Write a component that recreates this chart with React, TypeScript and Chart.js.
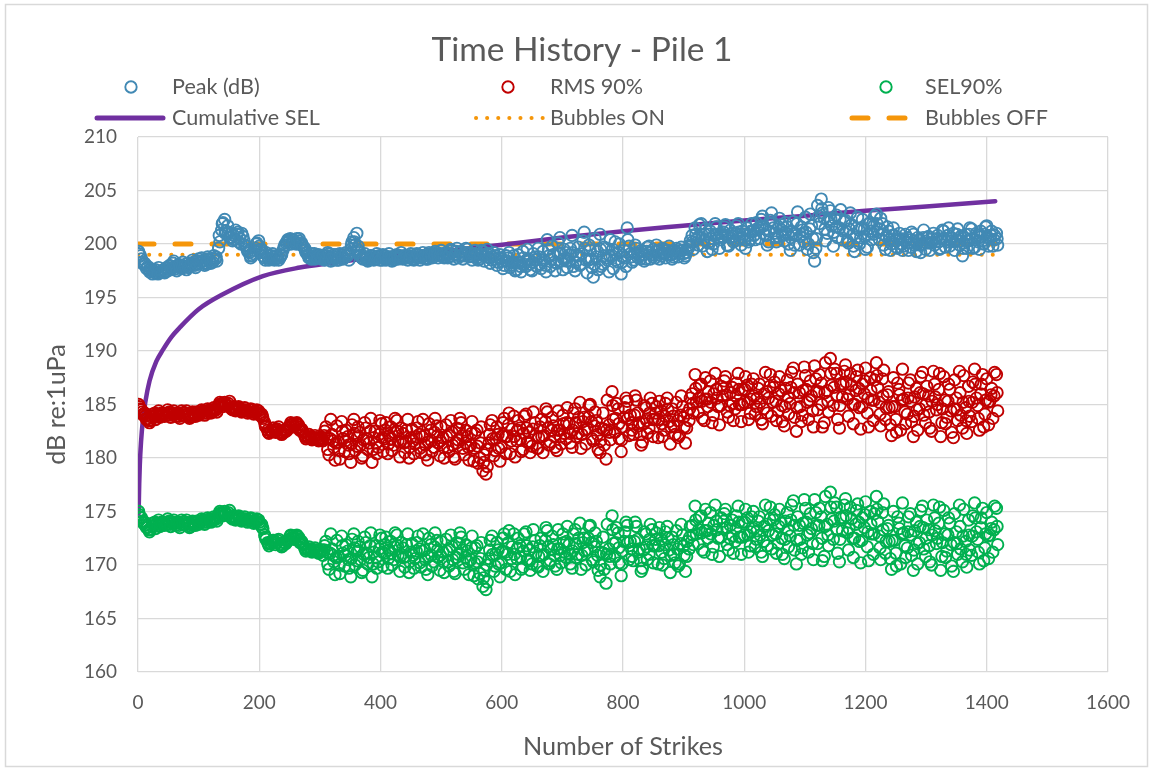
import React, { useEffect, useRef } from "react";
import { Chart, registerables } from "chart.js";

Chart.register(...registerables);

// ---------------- data ----------------
const chartTitle = "Time History - Pile 1";
const xAxisTitle = "Number of Strikes";
const yAxisTitle = "dB re:1uPa";
const seriesNames = ["Peak (dB)", "RMS 90%", "SEL90%", "Cumulative SEL", "Bubbles ON", "Bubbles OFF"];

const xTickLabels = [0, 200, 400, 600, 800, 1000, 1200, 1400, 1600];
const yTickLabels = [160, 165, 170, 175, 180, 185, 190, 195, 200, 205, 210];

// strike numbers of the plotted strikes (three interleaved sample sets)
const strikeCount = 280;
const strikeStep = 5.07;
const strikesA: number[] = Array.from({ length: strikeCount }, (_, i) => Math.round(1 + i * strikeStep));
const strikesB: number[] = Array.from({ length: strikeCount }, (_, i) => Math.round(3.5 + i * strikeStep));
const strikesC: number[] = Array.from({ length: strikeCount }, (_, i) => Math.round(2.3 + i * strikeStep));

const peakDbA = [
  199.3, 198.6, 198.2, 197.9, 197.7, 197.5, 197.3, 197.3, 197.6, 197.8,
  198.0, 197.8, 197.9, 198.1, 197.7, 197.9, 198.2, 198.0, 198.3, 198.1,
  198.2, 198.4, 198.1, 198.5, 198.3, 198.6, 199.6, 201.3, 202.3, 201.7,
  201.0, 200.8, 200.9, 200.5, 200.7, 199.8, 199.2, 198.9, 199.6, 200.3,
  199.5, 198.7, 198.9, 198.6, 198.8, 198.9, 198.7, 199.4, 200.1, 200.3,
  200.4, 200.2, 200.3, 200.1, 199.6, 199.0, 198.8, 198.9, 198.7, 198.9,
  198.9, 198.6, 199.1, 198.7, 198.8, 198.5, 199.0, 198.7, 198.9, 199.5,
  200.6, 201.0, 199.2, 198.6, 198.8, 198.5, 198.9, 198.6, 198.8, 198.7,
  198.9, 198.6, 198.8, 198.5, 199.0, 198.7, 198.6, 198.9, 198.7, 198.8,
  198.6, 199.0, 198.7, 198.9, 198.6, 199.1, 198.8, 199.2, 198.9, 199.0,
  199.2, 198.8, 199.4, 199.0, 198.7, 199.3, 198.9, 199.5, 199.1, 198.8,
  199.0, 198.6, 199.3, 198.8, 199.1, 198.5, 198.9, 198.3, 198.7, 198.0,
  198.4, 197.8, 198.9, 197.6, 198.2, 199.3, 197.9, 198.6, 197.5, 198.8,
  199.6, 197.7, 198.5, 200.4, 197.9, 199.0, 198.2, 200.6, 197.6, 199.2,
  198.4, 200.8, 197.5, 199.7, 198.1, 201.1, 197.3, 199.4, 196.9, 198.8,
  200.9, 198.1, 199.6, 197.4, 198.9, 200.2, 198.3, 197.2, 199.4, 201.5,
  199.1, 198.5, 199.6, 198.9, 199.3, 198.6, 199.8, 199.0, 198.7, 199.4,
  198.9, 199.5, 199.0, 199.3, 198.8, 199.6, 199.1, 199.4, 198.9, 199.7,
  200.8, 201.5, 199.9, 201.9, 200.4, 199.3, 201.2, 200.0, 201.6, 199.6,
  200.7, 201.8, 199.8, 201.0, 200.3, 201.9, 199.9, 200.9, 201.5, 200.4,
  201.2, 202.0, 200.5, 202.6, 201.4, 200.2, 202.9, 201.0, 200.7, 201.8,
  200.3, 201.6, 199.4, 202.1, 200.8, 199.9, 201.3, 202.5, 200.0, 201.7,
  198.4, 203.6, 204.2, 202.4, 201.0, 203.1, 199.8, 202.7, 201.5, 200.4,
  202.2, 200.1, 201.8, 199.3, 202.5, 200.6, 201.4, 199.7, 202.0, 200.9,
  202.8, 200.4, 201.9, 199.5, 201.2, 200.0, 200.8, 199.6, 200.5, 199.8,
  200.6, 199.7, 200.9, 199.3, 200.4, 200.0, 199.5, 200.7, 200.1, 199.9,
  200.8, 199.6, 201.2, 200.2, 199.8, 201.0, 200.4, 199.9, 198.9, 200.9,
  200.3, 201.4, 199.7, 200.8, 201.2, 200.0, 201.7, 200.5, 199.8, 201.0,
];

const peakDbB = [
  198.9, 198.1, 197.7, 197.4, 197.2, 197.6, 197.8, 197.5, 197.3, 197.5,
  197.6, 198.4, 197.5, 197.8, 198.3, 197.6, 197.9, 198.5, 197.8, 198.6,
  198.7, 198.0, 198.8, 198.2, 198.9, 198.4, 200.2, 202.0, 201.2, 200.6,
  200.3, 201.3, 200.2, 201.0, 199.9, 199.3, 198.7, 199.4, 200.1, 199.5,
  198.9, 199.2, 198.5, 199.1, 198.6, 198.5, 199.0, 199.9, 200.4, 200.0,
  200.1, 200.5, 200.0, 199.8, 199.2, 198.7, 199.1, 198.6, 199.0, 198.6,
  198.5, 199.2, 198.4, 199.0, 198.5, 199.1, 198.6, 199.2, 198.5, 200.2,
  199.9, 199.8, 198.7, 199.1, 198.4, 198.9, 198.5, 199.1, 198.5, 199.0,
  198.5, 199.1, 198.4, 198.9, 198.6, 199.2, 198.9, 198.5, 199.1, 198.5,
  199.1, 198.5, 199.2, 198.6, 199.2, 198.7, 199.3, 198.7, 199.4, 198.7,
  198.7, 199.5, 198.6, 199.6, 199.2, 198.6, 199.6, 198.8, 198.5, 199.4,
  198.5, 199.4, 198.4, 199.5, 198.2, 199.2, 198.0, 199.0, 197.7, 198.9,
  199.2, 198.3, 197.5, 199.0, 197.4, 198.1, 199.5, 197.6, 199.1, 197.9,
  198.1, 199.3, 197.4, 198.9, 199.8, 197.5, 200.1, 198.4, 199.5, 197.8,
  199.6, 197.9, 199.0, 198.0, 200.3, 198.5, 199.9, 197.8, 200.5, 197.6,
  197.9, 199.7, 198.5, 200.4, 197.7, 199.1, 200.0, 198.8, 197.9, 199.8,
  198.3, 199.9, 198.7, 199.4, 198.4, 199.7, 198.6, 199.5, 199.9, 198.6,
  199.6, 198.7, 199.8, 198.6, 199.4, 198.8, 199.7, 198.7, 199.5, 200.3,
  199.5, 200.4, 201.8, 199.8, 201.4, 200.9, 199.5, 201.9, 200.6, 201.0,
  201.6, 199.9, 201.3, 200.2, 201.7, 200.5, 201.2, 199.6, 200.2, 201.9,
  200.4, 201.5, 202.3, 200.9, 199.9, 202.2, 201.5, 200.2, 202.4, 200.8,
  202.0, 200.0, 201.2, 199.9, 203.0, 201.6, 200.2, 199.5, 202.8, 199.2,
  200.5, 201.9, 202.9, 200.3, 203.4, 201.7, 202.4, 200.6, 203.2, 202.1,
  200.3, 202.9, 199.8, 201.5, 200.0, 202.3, 199.5, 201.9, 200.4, 202.6,
  201.1, 202.4, 199.9, 201.6, 199.4, 201.5, 199.7, 201.0, 199.4, 200.9,
  199.4, 201.1, 199.9, 200.6, 199.2, 201.3, 200.6, 199.4, 201.0, 200.5,
  199.5, 201.3, 199.7, 201.5, 200.6, 199.4, 201.4, 200.7, 200.1, 199.6,
  201.5, 199.6, 201.0, 199.5, 200.3, 201.6, 199.8, 201.2, 200.8, 199.9,
];

const peakDbC = [
  199.1, 198.3, 198.0, 197.6, 197.5, 197.3, 197.2, 197.4, 197.4, 197.7,
  197.9, 198.2, 197.7, 198.0, 197.9, 198.1, 197.8, 198.2, 198.0, 198.4,
  198.4, 198.2, 198.6, 198.3, 198.6, 198.8, 200.8, 201.9, 201.0, 201.1,
  200.6, 200.4, 201.1, 200.0, 200.3, 199.5, 198.9, 199.1, 200.0, 199.8,
  199.2, 198.5, 198.7, 198.9, 198.5, 198.7, 198.9, 199.7, 200.2, 200.5,
  200.2, 200.0, 200.5, 199.9, 199.4, 198.9, 198.6, 199.1, 198.9, 198.7,
  198.7, 198.9, 198.8, 198.5, 199.0, 198.7, 198.8, 198.9, 199.1, 199.9,
  200.2, 199.5, 198.9, 198.8, 198.6, 198.7, 198.7, 198.8, 198.9, 198.5,
  198.7, 198.8, 198.6, 198.7, 198.8, 198.9, 198.7, 198.7, 198.9, 198.6,
  198.8, 198.8, 198.9, 198.7, 198.9, 198.9, 199.0, 199.0, 199.1, 198.8,
  199.0, 199.1, 198.9, 199.3, 198.9, 199.0, 199.2, 199.2, 198.9, 199.1,
  198.7, 199.0, 198.9, 199.1, 198.7, 198.8, 198.6, 198.7, 198.4, 198.4,
  198.7, 198.0, 198.2, 198.3, 197.9, 198.7, 198.5, 198.1, 198.3, 198.5,
  198.8, 198.5, 198.0, 199.5, 198.6, 198.3, 199.2, 199.1, 198.6, 198.4,
  199.0, 199.2, 198.3, 198.9, 199.1, 199.6, 198.5, 198.6, 198.1, 199.3,
  199.5, 198.9, 198.7, 198.9, 199.5, 198.5, 199.2, 198.3, 198.7, 200.4,
  198.8, 199.2, 199.1, 198.6, 199.0, 199.3, 199.2, 198.8, 199.3, 199.0,
  199.2, 199.1, 199.4, 199.0, 199.1, 199.2, 199.4, 199.1, 199.2, 199.9,
  200.2, 200.9, 200.7, 200.9, 200.9, 200.1, 200.5, 200.8, 200.9, 200.4,
  201.1, 200.8, 200.6, 200.7, 201.0, 201.1, 200.6, 200.4, 200.8, 201.2,
  200.8, 201.3, 201.5, 201.7, 200.8, 201.2, 202.0, 200.6, 201.6, 201.3,
  201.1, 200.9, 200.6, 201.0, 201.9, 200.7, 200.9, 201.1, 201.4, 200.5,
  199.6, 202.6, 203.3, 201.4, 202.2, 202.3, 201.1, 201.6, 202.3, 201.2,
  201.2, 201.4, 200.9, 200.6, 201.3, 201.5, 200.7, 200.9, 201.2, 201.7,
  201.9, 201.4, 200.9, 200.7, 200.4, 200.8, 200.3, 200.4, 200.0, 200.3,
  200.1, 200.4, 200.3, 200.0, 199.9, 200.6, 200.1, 200.1, 200.5, 200.2,
  200.2, 200.5, 200.4, 200.8, 200.3, 200.2, 200.9, 200.3, 199.6, 200.3,
  200.9, 200.5, 200.4, 200.2, 200.7, 200.9, 200.6, 200.8, 200.4, 200.5,
];

const rms90A = [
  185.0, 184.5, 184.2, 183.7, 183.5, 183.9, 184.1, 183.8, 184.2, 184.0,
  184.3, 184.1, 183.9, 184.2, 184.4, 184.0, 184.1, 183.8, 184.2, 184.3,
  184.1, 184.4, 184.2, 184.5, 184.3, 184.6, 184.8, 185.1, 185.2, 184.9,
  184.7, 184.8, 184.5, 184.6, 184.4, 184.5, 184.3, 184.5, 184.2, 184.4,
  184.1, 183.3, 182.6, 182.5, 182.8, 182.6, 182.4, 182.3, 182.5, 182.9,
  183.2, 183.0, 183.1, 182.7, 182.1, 181.9, 182.0, 181.8, 181.9, 181.7,
  181.6, 182.9, 180.3, 182.2, 179.8, 181.5, 183.4, 180.6, 182.0, 179.6,
  183.6, 181.1, 182.4, 180.2, 182.8, 181.4, 179.6, 182.5, 181.0, 183.2,
  181.8, 180.4, 182.9, 181.2, 183.5, 180.1, 182.3, 181.5, 180.0, 182.7,
  181.3, 183.4, 180.5, 182.1, 179.8, 182.6, 181.0, 183.0, 180.2, 181.9,
  183.1, 180.6, 182.4, 179.9, 181.7, 183.3, 180.3, 182.0, 181.2, 179.7,
  182.6, 180.0, 178.8, 178.5, 181.4, 183.5, 180.7, 182.2, 181.0, 183.7,
  182.0, 180.4, 183.9, 181.6, 182.8, 180.8, 184.1, 182.4, 181.1, 183.3,
  180.9, 183.6, 182.1, 184.3, 181.5, 183.0, 180.7, 182.6, 184.0, 181.8,
  183.2, 181.0, 184.6, 182.3, 180.9, 183.8, 182.7, 185.0, 181.6, 183.5,
  180.5, 184.2, 179.9, 183.1, 186.2, 182.4, 184.6, 180.6, 183.8, 185.3,
  184.0, 182.2, 185.4, 183.3, 181.5, 184.7, 182.8, 185.1, 183.6, 181.9,
  184.4, 182.6, 185.6, 181.3, 183.9, 185.2, 182.1, 184.8, 181.4, 183.5,
  186.0, 187.8, 184.3, 186.9, 183.5, 185.5, 187.2, 184.0, 186.4, 183.1,
  185.8, 187.6, 183.8, 186.6, 184.6, 187.9, 183.4, 185.2, 186.8, 184.2,
  187.4, 184.8, 186.9, 183.2, 188.0, 185.6, 183.9, 187.1, 184.4, 186.3,
  183.0, 187.3, 185.1, 188.4, 182.5, 186.1, 184.0, 187.7, 183.6, 185.8,
  188.6, 184.5, 187.0, 183.3, 186.3, 189.3, 184.9, 187.9, 182.8, 185.7,
  188.7, 183.9, 186.8, 185.0, 188.2, 182.7, 186.0, 184.2, 187.5, 183.5,
  188.9, 185.2, 187.4, 183.6, 186.2, 182.1, 184.8, 187.0, 182.6, 185.5,
  184.1, 187.3, 182.0, 186.5, 184.6, 188.0, 183.3, 185.8, 182.5, 186.9,
  185.0, 182.0, 187.6, 183.8, 186.4, 181.9, 185.6, 188.1, 182.8, 184.7,
  186.7, 183.4, 188.3, 184.9, 186.0, 182.9, 187.4, 185.3, 183.7, 187.8,
];

const rms90B = [
  184.6, 184.0, 183.6, 183.3, 184.1, 183.6, 184.4, 184.2, 183.9, 184.5,
  183.8, 184.4, 184.2, 183.7, 184.0, 184.4, 183.7, 184.3, 183.9, 184.0,
  184.5, 184.0, 184.6, 184.2, 184.7, 184.3, 185.2, 184.8, 184.9, 185.3,
  184.5, 184.4, 184.8, 184.3, 184.7, 184.2, 184.6, 184.1, 184.5, 184.0,
  183.7, 182.9, 182.3, 182.8, 182.4, 182.9, 182.2, 182.6, 182.8, 183.3,
  182.9, 183.3, 182.6, 182.4, 181.8, 182.2, 181.7, 182.1, 181.6, 181.9,
  182.5, 180.8, 183.6, 181.0, 183.0, 179.9, 181.8, 182.6, 180.4, 183.1,
  180.7, 182.9, 180.0, 183.3, 180.8, 183.7, 181.9, 180.4, 183.5, 180.6,
  183.3, 182.1, 180.7, 183.7, 181.6, 182.8, 180.5, 183.6, 181.9, 180.4,
  182.8, 180.9, 183.6, 180.3, 183.2, 180.6, 183.7, 181.4, 182.9, 180.0,
  181.0, 183.5, 180.1, 182.8, 183.7, 180.9, 182.6, 179.8, 183.4, 182.3,
  179.5, 182.9, 180.3, 179.2, 183.1, 180.2, 182.9, 179.7, 183.3, 180.4,
  184.2, 182.7, 180.1, 183.5, 180.6, 183.9, 181.5, 180.5, 184.3, 180.9,
  182.9, 180.5, 184.6, 181.2, 183.8, 181.0, 184.4, 181.3, 182.3, 184.7,
  181.4, 184.2, 182.0, 185.2, 183.4, 181.3, 184.9, 181.8, 184.3, 180.8,
  182.8, 181.2, 185.4, 181.7, 183.6, 185.1, 181.8, 182.9, 185.6, 182.1,
  182.6, 185.8, 183.0, 181.2, 184.9, 182.3, 185.6, 182.0, 184.8, 185.3,
  182.0, 185.1, 183.4, 184.6, 182.2, 181.9, 185.8, 182.9, 184.2, 185.6,
  184.2, 185.2, 186.8, 183.7, 187.5, 186.2, 183.3, 187.9, 184.8, 186.7,
  187.2, 184.3, 186.1, 183.5, 187.0, 185.0, 186.4, 187.6, 183.6, 186.9,
  184.1, 186.5, 183.6, 186.0, 184.2, 187.8, 186.6, 183.5, 187.6, 183.4,
  186.5, 184.1, 188.0, 183.8, 186.9, 183.4, 188.5, 185.2, 187.2, 182.9,
  186.2, 187.8, 182.9, 188.9, 184.3, 186.8, 188.3, 183.6, 186.9, 188.1,
  185.5, 187.9, 183.2, 187.6, 184.7, 186.9, 188.4, 182.9, 185.4, 187.3,
  186.6, 183.0, 188.2, 185.9, 183.1, 187.5, 182.4, 185.9, 188.3, 183.2,
  187.0, 183.4, 185.7, 182.6, 187.6, 184.0, 186.7, 182.8, 188.1, 184.5,
  187.9, 184.6, 183.2, 186.9, 182.4, 187.3, 183.5, 184.0, 187.7, 182.3,
  183.9, 187.1, 185.6, 182.6, 187.8, 185.4, 183.1, 186.5, 188.0, 184.4,
];

const rms90C = [
  184.8, 184.3, 183.9, 183.5, 183.8, 184.2, 183.9, 184.0, 184.1, 184.2,
  184.0, 184.2, 184.1, 183.9, 184.2, 184.2, 183.9, 184.0, 184.1, 184.2,
  184.3, 184.2, 184.4, 184.4, 184.5, 184.5, 185.0, 185.0, 185.0, 185.1,
  184.6, 184.6, 184.7, 184.4, 184.5, 184.4, 184.5, 184.3, 184.3, 184.2,
  183.9, 183.0, 182.4, 182.6, 182.6, 182.7, 182.3, 182.5, 182.6, 183.1,
  183.1, 183.2, 182.9, 182.5, 182.0, 182.0, 181.8, 181.9, 181.7, 181.8,
  182.1, 181.9, 181.8, 181.6, 181.4, 180.7, 182.5, 181.6, 181.2, 181.3,
  182.3, 182.0, 181.2, 181.7, 181.8, 182.5, 180.8, 181.4, 182.2, 181.9,
  182.6, 181.3, 181.8, 182.4, 182.5, 181.5, 181.4, 182.6, 181.0, 181.6,
  182.0, 182.2, 182.0, 181.2, 181.5, 181.6, 182.4, 182.1, 181.6, 181.0,
  182.0, 182.1, 181.2, 181.4, 182.7, 182.1, 181.4, 181.0, 182.3, 180.9,
  181.1, 181.4, 179.6, 180.8, 182.2, 181.8, 181.8, 180.9, 182.1, 182.0,
  183.1, 181.6, 182.0, 182.6, 181.7, 182.3, 182.8, 181.4, 182.7, 182.1,
  181.9, 182.0, 183.4, 182.8, 182.6, 182.0, 182.6, 182.0, 183.2, 183.3,
  182.3, 182.6, 183.3, 183.8, 182.2, 182.6, 183.8, 183.4, 183.0, 182.2,
  181.6, 182.7, 182.6, 182.4, 184.9, 183.7, 183.2, 181.7, 184.7, 183.7,
  183.3, 184.0, 184.2, 182.2, 183.2, 183.5, 184.2, 183.6, 184.2, 183.6,
  183.2, 183.9, 184.5, 182.9, 183.0, 183.5, 184.0, 183.8, 182.8, 184.6,
  185.1, 186.5, 185.6, 185.3, 185.5, 184.8, 185.2, 186.0, 185.6, 184.9,
  186.5, 185.9, 184.9, 185.1, 185.8, 186.4, 185.0, 186.4, 185.2, 185.5,
  185.8, 185.6, 185.2, 184.6, 186.2, 186.7, 185.2, 185.3, 186.0, 184.9,
  184.8, 185.7, 186.6, 186.1, 184.7, 184.8, 186.3, 186.4, 185.4, 184.4,
  187.4, 186.2, 185.0, 186.1, 185.3, 187.9, 186.6, 185.8, 184.9, 186.9,
  187.1, 185.9, 185.0, 186.3, 186.5, 184.8, 187.2, 185.6, 186.3, 185.4,
  187.7, 184.1, 185.8, 184.7, 184.7, 184.8, 183.6, 186.4, 185.4, 184.3,
  185.6, 185.3, 183.9, 184.5, 186.1, 186.0, 185.0, 184.3, 185.3, 185.7,
  186.4, 183.3, 185.4, 185.3, 184.4, 184.6, 184.5, 186.1, 185.2, 183.5,
  185.3, 185.2, 186.9, 183.7, 186.9, 184.1, 185.2, 185.9, 185.8, 186.1,
];

const sel90A = [
  175.0, 174.4, 174.0, 173.5, 173.3, 173.7, 173.9, 173.6, 174.0, 173.8,
  174.1, 173.9, 173.7, 174.0, 174.2, 173.8, 173.9, 173.6, 174.0, 174.1,
  173.9, 174.2, 174.0, 174.3, 174.1, 174.4, 174.6, 174.9, 175.0, 174.7,
  174.5, 174.6, 174.3, 174.4, 174.2, 174.3, 174.1, 174.3, 174.0, 174.2,
  173.8, 172.8, 172.1, 172.0, 172.3, 172.1, 171.9, 171.8, 172.0, 172.4,
  172.7, 172.5, 172.6, 172.2, 171.6, 171.4, 171.5, 171.3, 171.4, 171.2,
  170.9, 172.2, 169.6, 171.5, 169.1, 170.8, 172.7, 169.9, 171.3, 168.9,
  172.9, 170.4, 171.7, 169.5, 172.1, 170.7, 168.9, 171.8, 170.3, 172.5,
  171.1, 169.7, 172.2, 170.5, 172.8, 169.4, 171.6, 170.8, 169.3, 172.0,
  170.6, 172.7, 169.8, 171.4, 169.1, 171.9, 170.3, 172.3, 169.5, 171.2,
  172.4, 169.9, 171.7, 169.2, 171.0, 172.6, 169.6, 171.3, 170.5, 169.0,
  171.8, 169.2, 168.0, 167.7, 170.6, 172.7, 169.9, 171.4, 170.2, 172.9,
  171.0, 169.4, 172.9, 170.6, 171.8, 169.8, 173.1, 171.4, 170.1, 172.3,
  169.8, 172.5, 171.0, 173.2, 170.4, 171.9, 169.6, 171.5, 172.9, 170.7,
  171.9, 169.7, 173.3, 171.0, 169.6, 172.5, 171.4, 173.7, 170.3, 172.2,
  168.9, 172.6, 168.3, 171.5, 174.6, 170.8, 173.0, 169.0, 172.2, 173.7,
  172.2, 170.4, 173.6, 171.5, 169.7, 172.9, 171.0, 173.3, 171.8, 170.1,
  172.4, 170.6, 173.6, 169.3, 171.9, 173.2, 170.1, 172.8, 169.4, 171.5,
  173.7, 175.5, 172.0, 174.6, 171.2, 173.2, 174.9, 171.7, 174.1, 170.8,
  173.4, 175.2, 171.4, 174.2, 172.2, 175.5, 171.0, 172.8, 174.4, 171.8,
  175.0, 172.4, 174.5, 170.8, 175.6, 173.2, 171.5, 174.7, 172.0, 173.9,
  170.6, 174.9, 172.7, 176.0, 170.1, 173.7, 171.6, 175.3, 171.2, 173.4,
  176.1, 172.0, 174.5, 170.8, 173.8, 176.8, 172.4, 175.4, 170.3, 173.2,
  176.2, 171.4, 174.3, 172.5, 175.7, 170.2, 173.5, 171.7, 175.0, 171.0,
  176.4, 172.7, 174.9, 171.1, 173.7, 169.6, 172.3, 174.5, 170.1, 173.0,
  171.6, 174.8, 169.5, 174.0, 172.1, 175.5, 170.8, 173.3, 170.0, 174.4,
  172.5, 169.5, 175.1, 171.3, 173.9, 169.4, 173.1, 175.6, 170.3, 172.2,
  174.2, 170.9, 175.8, 172.4, 173.5, 170.4, 174.9, 172.8, 171.2, 175.3,
];

const sel90B = [
  174.5, 173.9, 173.5, 173.1, 173.9, 173.4, 174.2, 174.0, 173.7, 174.3,
  173.6, 174.2, 174.0, 173.5, 173.8, 174.2, 173.5, 174.1, 173.7, 173.8,
  174.3, 173.8, 174.4, 174.0, 174.5, 174.1, 175.0, 174.6, 174.7, 175.1,
  174.3, 174.2, 174.6, 174.1, 174.5, 174.0, 174.4, 173.9, 174.3, 173.8,
  173.4, 172.4, 171.8, 172.3, 171.9, 172.4, 171.7, 172.1, 172.3, 172.8,
  172.4, 172.8, 172.1, 171.9, 171.3, 171.7, 171.2, 171.6, 171.1, 171.4,
  171.8, 170.1, 172.9, 170.3, 172.3, 169.2, 171.1, 171.9, 169.7, 172.4,
  170.0, 172.2, 169.3, 172.6, 170.1, 173.0, 171.2, 169.7, 172.8, 169.9,
  172.6, 171.4, 170.0, 173.0, 170.9, 172.1, 169.8, 172.9, 171.2, 169.7,
  172.1, 170.2, 172.9, 169.6, 172.5, 169.9, 173.0, 170.7, 172.2, 169.3,
  170.3, 172.8, 169.4, 172.1, 173.0, 170.2, 171.9, 169.1, 172.7, 171.6,
  168.7, 172.1, 169.5, 168.4, 172.3, 169.4, 172.1, 168.9, 172.5, 169.6,
  173.2, 171.7, 169.1, 172.5, 169.6, 172.9, 170.5, 169.5, 173.3, 169.9,
  171.8, 169.4, 173.5, 170.1, 172.7, 169.9, 173.3, 170.2, 171.2, 173.6,
  170.1, 172.9, 170.7, 173.9, 172.1, 170.0, 173.6, 170.5, 173.0, 169.5,
  171.2, 169.6, 173.8, 170.1, 172.0, 173.5, 170.2, 171.3, 174.0, 170.5,
  170.8, 174.0, 171.2, 169.4, 173.1, 170.5, 173.8, 170.2, 173.0, 173.5,
  170.0, 173.1, 171.4, 172.6, 170.2, 169.9, 173.8, 170.9, 172.2, 173.6,
  171.9, 172.9, 174.5, 171.4, 175.2, 173.9, 171.0, 175.6, 172.5, 174.4,
  174.8, 171.9, 173.7, 171.1, 174.6, 172.6, 174.0, 175.2, 171.2, 174.5,
  171.7, 174.1, 171.2, 173.6, 171.8, 175.4, 174.2, 171.1, 175.2, 171.0,
  174.1, 171.7, 175.6, 171.4, 174.5, 171.0, 176.1, 172.8, 174.8, 170.5,
  173.7, 175.3, 170.4, 176.4, 171.8, 174.3, 175.8, 171.1, 174.4, 175.6,
  173.0, 175.4, 170.7, 175.1, 172.2, 174.4, 175.9, 170.4, 172.9, 174.8,
  174.1, 170.5, 175.7, 173.4, 170.6, 175.0, 169.9, 173.4, 175.8, 170.7,
  174.5, 170.9, 173.2, 170.1, 175.1, 171.5, 174.2, 170.3, 175.6, 172.0,
  175.4, 172.1, 170.7, 174.4, 169.9, 174.8, 171.0, 171.5, 175.2, 169.8,
  171.4, 174.6, 173.1, 170.1, 175.3, 172.9, 170.6, 174.0, 175.5, 171.9,
];

const sel90C = [
  174.7, 174.1, 173.7, 173.3, 173.6, 174.0, 173.7, 173.8, 173.9, 174.0,
  173.8, 174.0, 173.9, 173.7, 174.0, 174.0, 173.7, 173.8, 173.9, 174.0,
  174.1, 174.0, 174.2, 174.2, 174.3, 174.3, 174.8, 174.8, 174.8, 174.9,
  174.4, 174.4, 174.5, 174.2, 174.3, 174.2, 174.3, 174.1, 174.1, 174.0,
  173.5, 172.6, 172.0, 172.2, 172.2, 172.3, 171.9, 172.1, 172.2, 172.7,
  172.6, 172.7, 172.4, 172.0, 171.5, 171.5, 171.3, 171.4, 171.2, 171.3,
  171.4, 171.2, 171.1, 170.9, 170.7, 170.0, 171.8, 170.9, 170.5, 170.6,
  171.6, 171.3, 170.5, 171.0, 171.1, 171.8, 170.1, 170.7, 171.5, 171.2,
  171.9, 170.6, 171.1, 171.7, 171.8, 170.8, 170.7, 171.9, 170.3, 170.9,
  171.3, 171.5, 171.3, 170.5, 170.8, 170.9, 171.7, 171.4, 170.9, 170.3,
  171.3, 171.4, 170.5, 170.7, 172.0, 171.4, 170.7, 170.3, 171.6, 170.2,
  170.3, 170.6, 168.8, 170.0, 171.4, 171.0, 171.0, 170.1, 171.3, 171.2,
  172.1, 170.6, 171.0, 171.6, 170.7, 171.3, 171.8, 170.4, 171.7, 171.1,
  170.8, 170.9, 172.3, 171.7, 171.5, 170.9, 171.5, 170.9, 172.1, 172.2,
  171.0, 171.3, 172.0, 172.5, 170.9, 171.3, 172.5, 172.1, 171.7, 170.9,
  170.0, 171.1, 171.0, 170.8, 173.3, 172.1, 171.6, 170.1, 173.1, 172.1,
  171.5, 172.2, 172.4, 170.4, 171.4, 171.7, 172.4, 171.8, 172.4, 171.8,
  171.2, 171.9, 172.5, 170.9, 171.0, 171.5, 172.0, 171.8, 170.8, 172.6,
  172.8, 174.2, 173.3, 173.0, 173.2, 172.5, 172.9, 173.7, 173.3, 172.6,
  174.1, 173.5, 172.5, 172.7, 173.4, 174.0, 172.6, 174.0, 172.8, 173.1,
  173.4, 173.2, 172.8, 172.2, 173.8, 174.3, 172.8, 172.9, 173.6, 172.5,
  172.4, 173.3, 174.2, 173.7, 172.3, 172.4, 173.9, 174.0, 173.0, 172.0,
  174.9, 173.7, 172.5, 173.6, 172.8, 175.4, 174.1, 173.3, 172.4, 174.4,
  174.6, 173.4, 172.5, 173.8, 174.0, 172.3, 174.7, 173.1, 173.8, 172.9,
  175.2, 171.6, 173.3, 172.2, 172.2, 172.3, 171.1, 173.9, 172.9, 171.8,
  173.1, 172.8, 171.4, 172.0, 173.6, 173.5, 172.5, 171.8, 172.8, 173.2,
  173.9, 170.8, 172.9, 172.8, 171.9, 172.1, 172.0, 173.6, 172.7, 171.0,
  172.8, 172.7, 174.4, 171.2, 174.4, 171.6, 172.7, 173.4, 173.3, 173.6,
];

const cumulativeStrikes = [1, 2, 3, 5, 8, 12, 19, 30, 41, 55, 69, 100, 140, 206, 267, 316, 400, 500, 597, 700, 800, 899, 1000, 1092, 1200, 1300, 1414];
const cumulativeSel = [174.8, 177.6, 179.4, 181.5, 183.5, 185.2, 187.2, 189.0, 190.1, 191.3, 192.2, 193.9, 195.3, 197.0, 197.8, 198.2, 198.8, 199.3, 199.9, 200.6, 201.2, 201.7, 202.2, 202.6, 203.1, 203.5, 204.0];

const bubbleStrikes = [0, 1414];
const bubblesOn = [199, 199];
const bubblesOff = [200, 200];

// ---------------- styling ----------------
const FONT = 'Lato, "Open Sans", "Liberation Sans", sans-serif';
const TEXT = "#595959";
const GRID = "#D9D9D9";
const BLUE = "#4189B4";
const RED = "#C00000";
const GREEN = "#00B050";
const PURPLE = "#7030A0";
const ORANGE = "#F5960A";

const W = 1152;
const H = 770;

function fitSize(text: string, width: number): number {
  const c = document.createElement("canvas").getContext("2d") as CanvasRenderingContext2D;
  c.font = `100px ${FONT}`;
  return (100 * width) / c.measureText(text).width;
}

const toXY = (xs: number[], ys: number[]) => xs.map((x, i) => ({ x, y: ys[i] }));
const mergeSets = (sets: [number[], number[]][]) => {
  const out: { x: number; y: number }[] = [];
  const n = Math.max(...sets.map((s) => s[0].length));
  for (let i = 0; i < n; i++) {
    for (const [xs, ys] of sets) {
      if (i < xs.length) out.push({ x: xs[i], y: ys[i] });
    }
  }
  return out;
};

export default function App() {
  const ref = useRef<HTMLCanvasElement | null>(null);

  useEffect(() => {
    document.body.style.margin = "0";
    const canvas = ref.current;
    if (!canvas) return;

    const titleSize = fitSize(chartTitle, 301);
    const legendSize = fitSize(seriesNames[3], 148);
    const tickSize = fitSize("1600", 44);
    const axisTitleSize = fitSize(xAxisTitle, 200);

    const legendRows = [87, 118];
    const legendCols = [
      { sym: 131, l0: 97, l1: 163, tx: 172 },
      { sym: 508, l0: 476, l1: 543, tx: 550 },
      { sym: 886, l0: 852, l1: 907, tx: 925 },
    ];

    const legendPlugin = {
      id: "excelLegend",
      afterDraw(chart: any) {
        const ctx: CanvasRenderingContext2D = chart.ctx;
        ctx.save();
        // chart border
        ctx.strokeStyle = GRID;
        ctx.lineWidth = 1.5;
        ctx.strokeRect(5.5, 4.5, 1142, 762);

        // title
        ctx.font = `${titleSize}px ${FONT}`;
        ctx.fillStyle = TEXT;
        ctx.textAlign = "center";
        ctx.textBaseline = "middle";
        ctx.fillText(chartTitle, 582, 50);

        ctx.font = `${legendSize}px ${FONT}`;
        ctx.textAlign = "left";
        const markerColors = [BLUE, RED, GREEN];
        for (let i = 0; i < 3; i++) {
          const c = legendCols[i];
          const y = legendRows[0];
          ctx.beginPath();
          ctx.arc(c.sym, y, 5.7, 0, Math.PI * 2);
          ctx.lineWidth = 1.9;
          ctx.strokeStyle = markerColors[i];
          ctx.stroke();
          ctx.fillText(seriesNames[i], c.tx, y);
        }
        const lineStyles = [
          { color: PURPLE, width: 5, dash: [] as number[] },
          { color: ORANGE, width: 4, dash: [0.1, 11] },
          { color: ORANGE, width: 5, dash: [16, 21] },
        ];
        for (let i = 0; i < 3; i++) {
          const c = legendCols[i];
          const s = lineStyles[i];
          const y = legendRows[1];
          ctx.beginPath();
          ctx.setLineDash(s.dash);
          ctx.lineCap = "round";
          ctx.lineWidth = s.width;
          ctx.strokeStyle = s.color;
          ctx.moveTo(c.l0, y);
          ctx.lineTo(c.l1, y);
          ctx.stroke();
          ctx.setLineDash([]);
          ctx.fillText(seriesNames[3 + i], c.tx, y);
        }
        ctx.restore();
      },
    };

    const scatterStyle = (color: string) => ({
      showLine: false,
      pointRadius: 5.7,
      pointBorderWidth: 1.9,
      borderWidth: 1.9,
      pointStyle: "circle",
      borderColor: color,
      pointBorderColor: color,
      backgroundColor: "rgba(0,0,0,0)",
      pointBackgroundColor: "rgba(0,0,0,0)",
      order: 0,
    });

    const plainNumber = (v: any) => String(v);

    const chart = new Chart(canvas, {
      type: "scatter",
      data: {
        datasets: [
          {
            label: seriesNames[0],
            data: mergeSets([[strikesA, peakDbA], [strikesC, peakDbC], [strikesB, peakDbB]]),
            ...scatterStyle(BLUE),
          },
          {
            label: seriesNames[1],
            data: mergeSets([[strikesA, rms90A], [strikesC, rms90C], [strikesB, rms90B]]),
            ...scatterStyle(RED),
          },
          {
            label: seriesNames[2],
            data: mergeSets([[strikesA, sel90A], [strikesC, sel90C], [strikesB, sel90B]]),
            ...scatterStyle(GREEN),
          },
          {
            label: seriesNames[3],
            data: toXY(cumulativeStrikes, cumulativeSel),
            showLine: true,
            pointRadius: 0,
            borderColor: PURPLE,
            borderWidth: 4.5,
            borderCapStyle: "round",
            borderJoinStyle: "round",
            cubicInterpolationMode: "monotone",
            order: 1,
          },
          {
            label: seriesNames[4],
            data: toXY(bubbleStrikes, bubblesOn),
            showLine: true,
            pointRadius: 0,
            borderColor: ORANGE,
            borderWidth: 4,
            borderDash: [0.1, 11],
            borderCapStyle: "round",
            order: 1,
          },
          {
            label: seriesNames[5],
            data: toXY(bubbleStrikes, bubblesOff),
            showLine: true,
            pointRadius: 0,
            borderColor: ORANGE,
            borderWidth: 5,
            borderDash: [16, 21],
            borderCapStyle: "round",
            order: 1,
          },
        ] as any,
      },
      options: {
        responsive: false,
        animation: false,
        events: [],
        layout: { padding: { left: 0, right: 44, top: 137, bottom: 0 } },
        plugins: {
          legend: { display: false },
          tooltip: { enabled: false },
          title: { display: false },
        },
        scales: {
          x: {
            type: "linear",
            min: xTickLabels[0],
            max: xTickLabels[xTickLabels.length - 1],
            ticks: {
              stepSize: xTickLabels[1] - xTickLabels[0],
              color: TEXT,
              padding: 31 - tickSize * 0.6,
              font: { family: FONT, size: tickSize },
              callback: plainNumber,
            },
            grid: { color: GRID, lineWidth: 1.3, drawTicks: false },
            border: { display: false },
            title: {
              display: true,
              text: xAxisTitle,
              color: TEXT,
              font: { family: FONT, size: axisTitleSize },
              padding: { top: 0, bottom: H - 747 - axisTitleSize * 0.6 },
            },
            afterFit: (s: any) => {
              s.height = 98;
              s.paddingLeft = 0;
              s.paddingRight = 0;
            },
          },
          y: {
            type: "linear",
            min: yTickLabels[0],
            max: yTickLabels[yTickLabels.length - 1],
            ticks: {
              stepSize: yTickLabels[1] - yTickLabels[0],
              color: TEXT,
              padding: 21,
              font: { family: FONT, size: tickSize },
              callback: plainNumber,
            },
            grid: { color: GRID, lineWidth: 1.3, drawTicks: false },
            border: { display: false },
            title: {
              display: true,
              text: yAxisTitle,
              color: TEXT,
              font: { family: FONT, size: axisTitleSize },
              padding: { top: 57 - axisTitleSize * 0.6, bottom: 0 },
            },
            afterFit: (s: any) => {
              s.width = 138;
              s.paddingTop = 0;
              s.paddingBottom = 0;
            },
          },
        },
      } as any,
      plugins: [legendPlugin],
    });

    return () => chart.destroy();
  }, []);

  return <canvas ref={ref} width={W} height={H} style={{ display: "block" }} />;
}
